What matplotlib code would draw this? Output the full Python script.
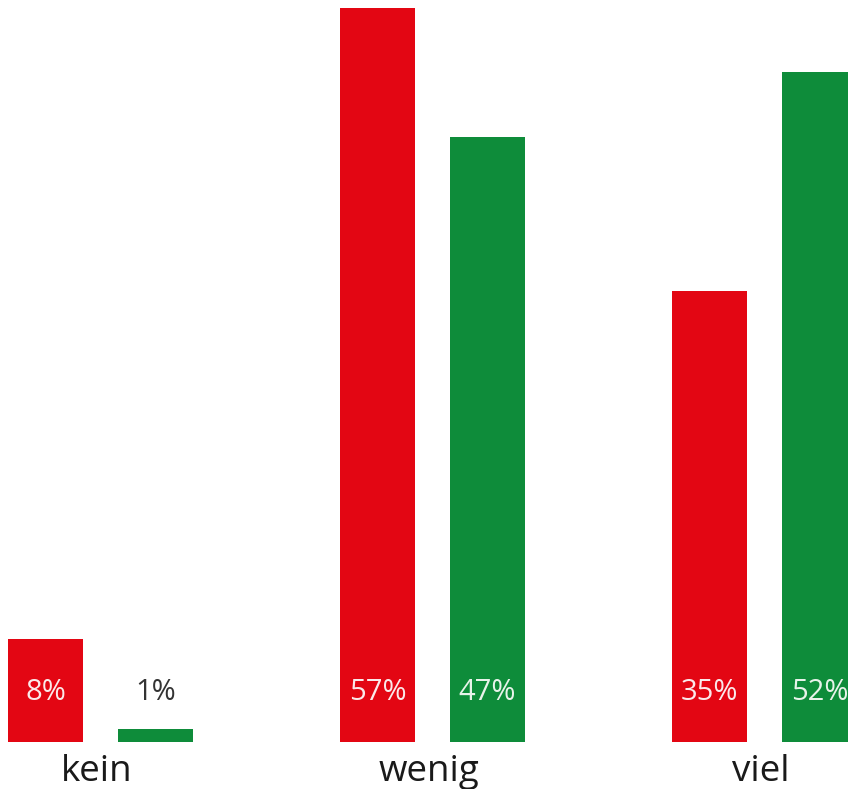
import matplotlib
matplotlib.use("Agg")
import matplotlib.pyplot as plt
import numpy as np

categories = ["kein", "wenig", "viel"]
red_values = [8, 57, 35]
green_values = [1, 47, 52]
red_labels = ["8%", "57%", "35%"]
green_labels = ["1%", "47%", "52%"]

RED = "#E30613"
GREEN = "#0E8C3A"

plt.rcParams['font.family'] = ['Open Sans', 'DejaVu Sans']

fig = plt.figure(figsize=(8.48, 7.89), dpi=100)
ax = fig.add_axes([0, 0, 1, 1])

x = np.arange(len(categories))
w = 0.226
off = 0.1657
ax.bar(x - off, red_values, width=w, color=RED)
ax.bar(x + off, green_values, width=w, color=GREEN)

label_y = 3.85
for i in range(len(categories)):
    ax.text(x[i] - off, label_y, red_labels[i], ha='center', va='center',
            fontsize=21, color='#fbe9ea')
    if green_values[i] > 5:
        ax.text(x[i] + off, label_y, green_labels[i], ha='center', va='center',
                fontsize=21, color='#e8f3ea')
    else:
        ax.text(x[i] + off, label_y, green_labels[i], ha='center', va='center',
                fontsize=21, color='#333333')
    ax.text(x[i] - 0.01, -2.3, categories[i], ha='center', va='center',
            fontsize=26.5, color='#1a1a1a')

ax.set_xlim(-0.3027, 2.2515)
ax.set_ylim(-3.65, 57.6)
ax.axis('off')
fig.savefig("out.png", dpi=100, facecolor='white')
